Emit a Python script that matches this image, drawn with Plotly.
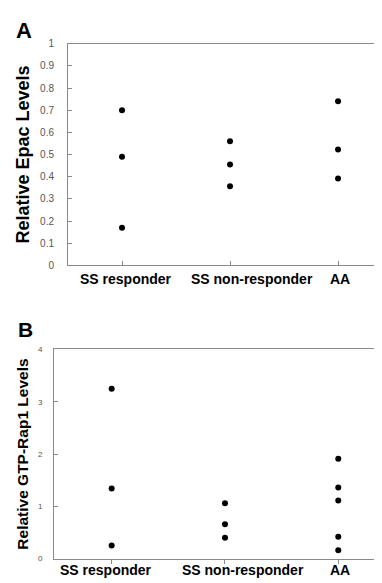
import plotly.graph_objects as go

categories = ["SS responder", "SS non-responder", "AA"]

# Panel A: Relative Epac levels
epac_groups = ["SS responder"] * 3 + ["SS non-responder"] * 3 + ["AA"] * 3
epac_values = [0.70, 0.49, 0.17, 0.56, 0.455, 0.357, 0.74, 0.523, 0.392]

# Panel B: Relative GTP-Rap1 levels
rap1_groups = ["SS responder"] * 3 + ["SS non-responder"] * 3 + ["AA"] * 5
rap1_values = [3.25, 1.34, 0.25, 1.06, 0.66, 0.40, 1.91, 1.36, 1.11, 0.42, 0.16]

epac_ticks = [0, 0.1, 0.2, 0.3, 0.4, 0.5, 0.6, 0.7, 0.8, 0.9, 1]
epac_ticktext = ["0", "0.1", "0.2", "0.3", "0.4", "0.5", "0.6", "0.7", "0.8", "0.9", "1"]
rap1_ticks = [0, 1, 2, 3, 4]

# page is rendered with an 8px body margin; compensate
OFF = 8
W, H = 382 - OFF, 583 - OFF
axis_col = "#8a8a8a"
tick_font_col = "#555555"

# horizontal offsets (px) of the category labels relative to their ticks
label_shift_a = [4, 22, 2]
label_shift_b = [-6, 18, 2]

fig = go.Figure()
fig.add_trace(go.Scatter(x=epac_groups, y=epac_values, mode="markers",
                         marker=dict(color="black", size=6),
                         xaxis="x", yaxis="y", showlegend=False))
fig.add_trace(go.Scatter(x=rap1_groups, y=rap1_values, mode="markers",
                         marker=dict(color="black", size=6),
                         xaxis="x2", yaxis="y2", showlegend=False))

def px_x(p):
    return (p - OFF) / W

def px_y(p):
    return 1 - (p - OFF) / H

common_x = dict(type="category", categoryorder="array", categoryarray=categories,
                showline=True, linecolor=axis_col, linewidth=1, mirror=True,
                ticklen=4, tickcolor=axis_col, showticklabels=False,
                showgrid=False, zeroline=False)
common_y = dict(showline=True, linecolor=axis_col, linewidth=1,
                ticks="inside", ticklen=4, tickcolor=axis_col,
                showgrid=False, zeroline=False)

annotations = [
    dict(text="<b>A</b>", x=px_x(24), y=px_y(25), xref="paper", yref="paper",
         showarrow=False, font=dict(size=22, color="black"), xanchor="center", yanchor="middle"),
    dict(text="<b>B</b>", x=px_x(25), y=px_y(330), xref="paper", yref="paper",
         showarrow=False, font=dict(size=21, color="black"), xanchor="center", yanchor="middle"),
]
for cat, sh in zip(categories, label_shift_a):
    annotations.append(dict(text=f"<b>{cat}</b>", x=cat, xref="x", y=px_y(278), yref="paper",
                            xshift=sh, showarrow=False, xanchor="center", yanchor="middle",
                            font=dict(size=14, color="black")))
for cat, sh in zip(categories, label_shift_b):
    annotations.append(dict(text=f"<b>{cat}</b>", x=cat, xref="x2", y=px_y(575), yref="paper",
                            xshift=sh, showarrow=False, xanchor="center", yanchor="middle",
                            font=dict(size=14, color="black")))

fig.update_layout(
    width=W, height=H,
    margin=dict(l=0, r=0, t=0, b=0),
    paper_bgcolor="white", plot_bgcolor="white",
    font=dict(family="Liberation Sans, Arial"),
    xaxis=dict(common_x, domain=[px_x(68), 1], range=[-0.5, 2.407], anchor="y",
               ticks="inside"),
    yaxis=dict(common_y, domain=[px_y(264.3), px_y(38.3)], range=[0, 1], anchor="x",
               tickvals=epac_ticks, ticktext=epac_ticktext, ticklabelstandoff=11,
               tickfont=dict(size=10, color=tick_font_col),
               title=dict(text="Relative Epac Levels", standoff=5,
                          font=dict(size=18, color="black", weight="bold"))),
    xaxis2=dict(common_x, domain=[px_x(54), 1], range=[-0.509, 2.386], anchor="y2",
                ticks="outside"),
    yaxis2=dict(common_y, domain=[px_y(563.3), px_y(350)], range=[0, 4], anchor="x2",
                tickvals=rap1_ticks, ticklabelstandoff=9,
                tickfont=dict(size=8, color=tick_font_col),
                title=dict(text="Relative GTP-Rap1 Levels", standoff=5,
                           font=dict(size=15.5, color="black", weight="bold"))),
    annotations=annotations,
)

fig.write_html("out.html")
